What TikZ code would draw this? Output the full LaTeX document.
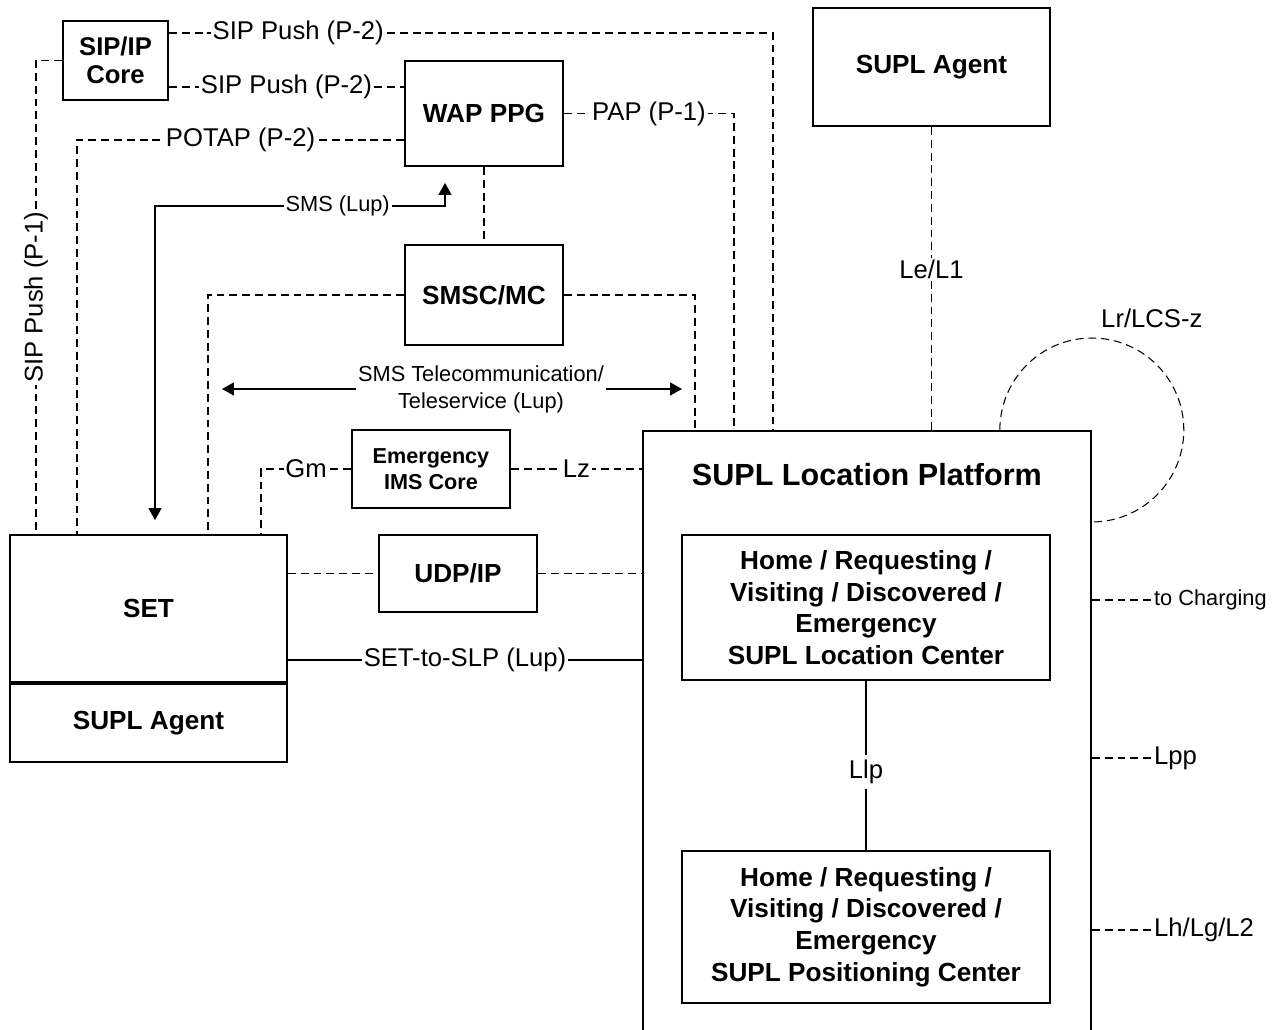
\documentclass[tikz,border=0pt]{standalone}
\usepackage{fontspec}
\setmainfont{Liberation Sans}
\usetikzlibrary{arrows.meta,positioning,calc}
\newcommand{\boxfont}{\fontsize{14.9}{18}\selectfont\bfseries}
\newcommand{\sipfont}{\fontsize{14.6}{16}\selectfont\bfseries}
\newcommand{\imsfont}{\fontsize{12.3}{14.7}\selectfont\bfseries}
\newcommand{\titlefont}{\fontsize{17.4}{21}\selectfont\bfseries}
\newcommand{\lblfont}{\fontsize{14.6}{17}\selectfont}
\newcommand{\smallfont}{\fontsize{12.4}{15.3}\selectfont}

\begin{document}
\begin{tikzpicture}[x=0.02cm, y=-0.02cm, >={Triangle[length=6.8pt,width=7.4pt]},
				box/.style={rectangle, draw, line width=1.1pt, align=center, font=\boxfont, inner sep=2pt},
				dline/.style={line width=0.6pt, dash pattern=on 4.5pt off 2.8pt},
				sline/.style={line width=0.6pt},
				lbl/.style={font=\lblfont, fill=white, inner sep=1pt},
				slbl/.style={font=\smallfont, fill=white, inner sep=1pt, align=center}]
				\useasboundingbox (0,0) rectangle (1276,1030);
				\clip (0,0) rectangle (1276,1030);
				
				\node[box, font=\sipfont, minimum width=2.1cm, minimum height=1.58cm] (sip) at (115.5,60.5) {SIP/IP\\Core};
				\node[box, minimum width=3.16cm, minimum height=2.1cm] (wap) at (484,113.5) {WAP PPG};
				\node[box, minimum width=3.16cm, minimum height=2cm] (smsc) at (484,295) {SMSC/MC};
				\node[box, font=\imsfont, minimum width=3.16cm, minimum height=1.56cm] (ims) at (431,469) {Emergency\\IMS Core};
				\node[box, minimum width=3.16cm, minimum height=1.54cm] (udp) at (458,573.5) {UDP/IP};
				\node[box, minimum width=5.54cm, minimum height=2.94cm] (set) at (148.5,608.5) {SET};
				\node[box, minimum width=5.54cm, minimum height=1.56cm, below=0pt of set] (agent1) {SUPL Agent};
				\node[box, minimum width=4.74cm, minimum height=2.36cm] (agent2) at (931.5,67) {SUPL Agent};
				\node[box, anchor=north west, minimum width=8.96cm, minimum height=13cm] (slp) at (642,430) {};
				\node[font=\titlefont] (slptitle) at ($(slp.north)+(0,45)$) {SUPL Location Platform};
				\node[box, minimum width=7.36cm, minimum height=2.9cm] (lc) at (866,607.5) {Home / Requesting /\\Visiting / Discovered /\\Emergency\\SUPL Location Center};
				\node[box, minimum width=7.36cm, minimum height=3.04cm] (pc) at (866,927) {Home / Requesting /\\Visiting / Discovered /\\Emergency\\SUPL Positioning Center};
				
				% SIP/IP Core
				\draw[dline] (sip.east |- 0,33) -| node[lbl, pos=0.107] {SIP Push (P-2)} ($(slp.north west)+(131,0)$);
				\draw[dline] (sip.east |- 0,87) -- node[lbl] {SIP Push (P-2)} (wap.west |- 0,87);
				\draw[dline] (sip.west) -| node[lbl, rotate=90, pos=0.75] {SIP Push (P-1)} (set.north -| 36,0);
				
				% WAP PPG
				\draw[dline] (wap.west |- 0,140) -| node[lbl, pos=0.25] {POTAP (P-2)} (set.north -| 77,0);
				\draw[dline] (wap.east) -| node[lbl, pos=0.25] {PAP (P-1)} ($(slp.north west)+(92,0)$);
				\draw[dline] (wap.south) -- (smsc.north);
				
				% SMS
				\coordinate (smsup) at ($(wap.south -| 445,0)+(0,16)$);
				\coordinate (smsdn) at ($(set.north -| 155,0)+(0,-14)$);
				\draw[sline, <->] (smsdn) |- node[slbl, pos=0.815] {SMS (Lup)} (smsup |- 0,206) -- (smsup);
				\coordinate (tl) at (222,389);
				\coordinate (tr) at (682,389);
				\draw[sline, <->] (tl) -- node[slbl, pos=0.563] {SMS Telecommunication/\\Teleservice (Lup)} (tr);
				
				% SMSC/MC
				\draw[dline] (smsc.west) -| (set.north -| 208,0);
				\draw[dline] (smsc.east) -| ($(slp.north west)+(53,0)$);
				
				% Emergency IMS Core
				\draw[dline] (ims.west) -| node[lbl, pos=0.25] {Gm} (set.north -| 261,0);
				\draw[dline] (ims.east) -- node[lbl] {Lz} (ims.east -| slp.west);
				
				% UDP/IP
				\draw[dline] (udp.west -| set.east) -- (udp.west);
				\draw[dline] (udp.east) -- (udp.east -| slp.west);
				\draw[sline] (set.east |- 0,660) -- node[lbl] {SET-to-SLP (Lup)} (slp.west |- 0,660);
				
				% SUPL Agent
				\draw[dline] (agent2.south) -- node[lbl, pos=0.47] {Le/L1} (agent2.south |- slp.north);
				
				% SLP
				\draw[sline] (lc.south) -- node[lbl, inner sep=3pt, pos=0.54] {Llp} (pc.north);
				\draw[dline] ($(slp.north east)+(-92,0)$) arc[start angle=180, end angle=-90, radius=1.84cm];
				\node[font=\lblfont] (lrlbl) at ($(slp.north east)+(60,-112)$) {Lr/LCS-z};
				\draw[dline] ($(slp.north east)+(0,170)$) -- ++(60,0) node[slbl, anchor=west] (chg) {to Charging};
				\draw[dline] ($(slp.north east)+(0,328)$) -- ++(60,0) node[lbl, anchor=west] (lpp) {Lpp};
				\draw[dline] ($(slp.north east)+(0,500)$) -- ++(60,0) node[lbl, anchor=west] (lh) {Lh/Lg/L2};
			\end{tikzpicture}
\end{document}
